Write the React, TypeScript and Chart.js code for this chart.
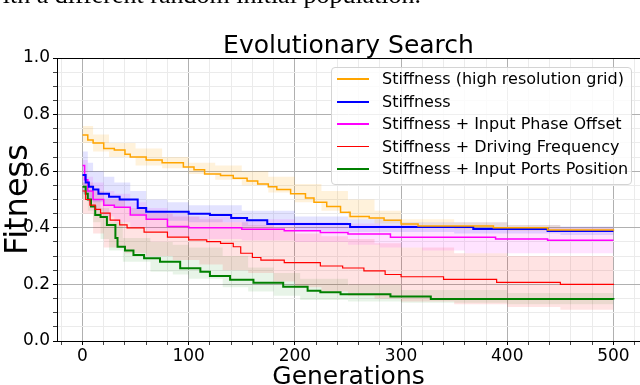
import React, { useEffect, useRef } from "react";
import { Chart, registerables } from "chart.js";

Chart.register(...registerables);

// ---------- text ----------
const TITLE = "Evolutionary Search";
const X_LABEL = "Generations";
const Y_LABEL = "Fitness";
const PAPER_TEXT = "with a different random initial population.";

const seriesNames = [
  "Stiffness (high resolution grid)",
  "Stiffness",
  "Stiffness + Input Phase Offset",
  "Stiffness + Driving Frequency",
  "Stiffness + Input Ports Position",
];
const seriesColors = ["#FFA500", "#0000FF", "#FF00FF", "#FF0000", "#008000"];
const bandColors = [
  "rgba(255,165,0,0.14)",
  "rgba(0,0,255,0.11)",
  "rgba(255,0,255,0.11)",
  "rgba(255,0,0,0.11)",
  "rgba(0,128,0,0.09)",
];
const lineWidths = [1.5, 2, 1.5, 1.2, 2];
const legendLineWidths = [2, 2, 2, 1, 2];

const xTickLabels = [0, 100, 200, 300, 400, 500];
const yTickLabels = [0.0, 0.2, 0.4, 0.6, 0.8, 1.0];

// ---------- data ----------
// Stiffness (high resolution grid)
const orangeGen = [0, 5, 10, 20, 30, 40, 45, 60, 75, 95, 105, 115, 130, 142, 155, 165, 175, 183, 196, 210, 218, 230, 243, 252, 270, 284, 300, 316, 387, 438, 500];
const orangeMean = [0.728, 0.71, 0.7, 0.68, 0.675, 0.66, 0.65, 0.64, 0.63, 0.615, 0.605, 0.59, 0.585, 0.575, 0.565, 0.555, 0.545, 0.535, 0.52, 0.505, 0.49, 0.475, 0.455, 0.44, 0.435, 0.427, 0.413, 0.406, 0.4, 0.392, 0.39];
const orangeBandGen = [0, 10, 25, 50, 75, 100, 125, 150, 175, 200, 225, 250, 275, 300, 350, 400, 450, 500];
const orangeHi = [0.76, 0.73, 0.7, 0.68, 0.65, 0.63, 0.62, 0.6, 0.58, 0.555, 0.53, 0.5, 0.46, 0.43, 0.42, 0.41, 0.4, 0.4];
const orangeLo = [0.7, 0.67, 0.65, 0.62, 0.61, 0.59, 0.57, 0.55, 0.525, 0.49, 0.46, 0.43, 0.415, 0.4, 0.395, 0.39, 0.385, 0.385];

// Stiffness
const blueGen = [0, 3, 6, 10, 15, 25, 35, 52, 60, 100, 120, 140, 155, 174, 252, 368, 438, 500];
const blueMean = [0.587, 0.56, 0.545, 0.535, 0.52, 0.51, 0.5, 0.47, 0.457, 0.45, 0.445, 0.435, 0.427, 0.413, 0.403, 0.396, 0.389, 0.389];
const blueBandGen = [0, 5, 10, 20, 30, 45, 60, 80, 100, 150, 200, 250, 300, 350, 400, 450, 500];
const blueHi = [0.67, 0.63, 0.6, 0.58, 0.56, 0.53, 0.5, 0.49, 0.48, 0.46, 0.44, 0.43, 0.42, 0.42, 0.41, 0.405, 0.4];
const blueLo = [0.52, 0.5, 0.49, 0.48, 0.47, 0.45, 0.43, 0.425, 0.42, 0.405, 0.39, 0.385, 0.385, 0.38, 0.38, 0.375, 0.375];

// Stiffness + Input Phase Offset
const magGen = [0, 2, 5, 10, 20, 30, 45, 60, 80, 100, 150, 190, 224, 250, 290, 389, 438, 500];
const magMean = [0.62, 0.57, 0.53, 0.5, 0.48, 0.473, 0.445, 0.43, 0.405, 0.4, 0.395, 0.39, 0.383, 0.378, 0.367, 0.36, 0.356, 0.356];
const magBandGen = [0, 5, 10, 20, 30, 45, 60, 80, 100, 150, 200, 250, 280, 320, 360, 400, 450, 500];
const magHi = [0.64, 0.58, 0.56, 0.53, 0.52, 0.49, 0.47, 0.45, 0.44, 0.43, 0.42, 0.415, 0.41, 0.405, 0.4, 0.4, 0.4, 0.4];
const magLo = [0.55, 0.49, 0.46, 0.44, 0.42, 0.4, 0.39, 0.37, 0.36, 0.355, 0.35, 0.34, 0.33, 0.32, 0.31, 0.31, 0.31, 0.31];

// Stiffness + Driving Frequency
const redGen = [0, 3, 7, 12, 17, 26, 35, 42, 58, 80, 100, 117, 130, 142, 149, 160, 168, 190, 224, 245, 265, 285, 300, 340, 390, 450, 500];
const redMean = [0.53, 0.5, 0.48, 0.465, 0.452, 0.427, 0.41, 0.4, 0.385, 0.367, 0.357, 0.351, 0.345, 0.333, 0.31, 0.295, 0.286, 0.277, 0.265, 0.258, 0.248, 0.235, 0.227, 0.218, 0.207, 0.2, 0.198];
const redBandGen = [0, 10, 20, 40, 60, 85, 110, 132, 156, 180, 200, 225, 250, 275, 300, 350, 400, 450, 500];
const redHi = [0.56, 0.53, 0.5, 0.47, 0.45, 0.44, 0.43, 0.42, 0.41, 0.4, 0.38, 0.37, 0.36, 0.345, 0.33, 0.31, 0.3, 0.3, 0.3];
const redLo = [0.45, 0.38, 0.33, 0.31, 0.3, 0.286, 0.27, 0.25, 0.24, 0.21, 0.19, 0.175, 0.16, 0.15, 0.14, 0.13, 0.12, 0.11, 0.1];

// Stiffness + Input Ports Position
const greenGen = [0, 3, 5, 8, 12, 17, 23, 31, 33, 40, 48, 58, 73, 92, 111, 120, 139, 161, 189, 212, 224, 243, 290, 328, 500];
const greenMean = [0.545, 0.52, 0.5, 0.475, 0.445, 0.438, 0.41, 0.364, 0.333, 0.32, 0.304, 0.292, 0.28, 0.257, 0.245, 0.23, 0.216, 0.206, 0.192, 0.178, 0.172, 0.165, 0.157, 0.148, 0.147];
const greenBandGen = [0, 5, 10, 17, 25, 38, 64, 85, 100, 132, 156, 180, 205, 250, 300, 400, 500];
const greenHi = [0.56, 0.53, 0.5, 0.47, 0.42, 0.364, 0.35, 0.34, 0.33, 0.3, 0.26, 0.24, 0.22, 0.2, 0.18, 0.17, 0.165];
const greenLo = [0.5, 0.46, 0.42, 0.36, 0.32, 0.28, 0.245, 0.235, 0.22, 0.19, 0.175, 0.16, 0.145, 0.14, 0.135, 0.13, 0.13];

const lineGens = [orangeGen, blueGen, magGen, redGen, greenGen];
const lineMeans = [orangeMean, blueMean, magMean, redMean, greenMean];
const bandGens = [orangeBandGen, blueBandGen, magBandGen, redBandGen, greenBandGen];
const bandHis = [orangeHi, blueHi, magHi, redHi, greenHi];
const bandLos = [orangeLo, blueLo, magLo, redLo, greenLo];

const X_MIN = -24;
const X_MAX = 525;

function pts(g: number[], v: number[]) {
  return g.map((x, i) => ({ x, y: v[i] }));
}

const isMajorX = (v: number) => xTickLabels.includes(v);
const isMajorY = (v: number) => yTickLabels.some((t) => Math.abs(t - v) < 1e-9);

const FONT = "DejaVu Sans";

const framePlugin = {
  id: "frameAndTexts",
  afterDraw(chart: any) {
    const { ctx, chartArea: a } = chart;
    ctx.save();
    ctx.strokeStyle = "#000";
    ctx.lineWidth = 1;
    ctx.strokeRect(a.left + 0.5, a.top + 0.5, a.right - a.left, a.bottom - a.top);
    ctx.fillStyle = "#000";
    ctx.textAlign = "center";
    ctx.textBaseline = "alphabetic";
    const cx = (a.left + a.right) / 2;
    ctx.font = `25px "${FONT}"`;
    ctx.fillText(TITLE, cx, a.top - 5);
    ctx.fillText(X_LABEL, cx, 384);
    ctx.translate(27, (a.top + a.bottom) / 2);
    ctx.rotate(-Math.PI / 2);
    ctx.font = `32px "${FONT}"`;
    ctx.fillText(Y_LABEL, 0, 0);
    ctx.restore();
  },
};

export default function App() {
  const ref = useRef<HTMLCanvasElement>(null);

  useEffect(() => {
    const canvas = ref.current;
    if (!canvas) return;
    const datasets: any[] = [];
    for (let k = 0; k < 5; k++) {
      datasets.push({
        label: seriesNames[k],
        data: pts(lineGens[k], lineMeans[k]),
        borderColor: seriesColors[k],
        backgroundColor: seriesColors[k],
        borderWidth: lineWidths[k],
        pointRadius: 0,
        stepped: true,
        fill: false,
      });
    }
    for (let k = 0; k < 5; k++) {
      const hiIndex = datasets.length;
      datasets.push({
        label: "hi" + k,
        data: pts(bandGens[k], bandHis[k]),
        borderColor: "rgba(0,0,0,0)",
        backgroundColor: bandColors[k],
        borderWidth: 0,
        pointRadius: 0,
        stepped: true,
        fill: { target: hiIndex + 1 },
      });
      datasets.push({
        label: "lo" + k,
        data: pts(bandGens[k], bandLos[k]),
        borderColor: "rgba(0,0,0,0)",
        backgroundColor: "rgba(0,0,0,0)",
        borderWidth: 0,
        pointRadius: 0,
        stepped: true,
        fill: false,
      });
    }

    const chart = new Chart(canvas, {
      type: "line",
      data: { datasets },
      plugins: [framePlugin],
      options: {
        animation: false,
        responsive: false,
        devicePixelRatio: 1,
        events: [],
        layout: { padding: { left: 0, top: 58, right: 20, bottom: 0 } },
        plugins: {
          legend: { display: false },
          title: { display: false },
          tooltip: { enabled: false },
        },
        scales: {
          x: {
            type: "linear",
            min: X_MIN,
            max: X_MAX,
            afterBuildTicks: (scale: any) => {
              const t = [];
              for (let v = -20; v <= 520; v += 20) t.push({ value: v });
              scale.ticks = t;
            },
            afterFit: (scale: any) => {
              scale.height = 59;
            },
            border: { display: false },
            grid: {
              color: (c: any) => (c.tick && isMajorX(c.tick.value) ? "#b0b0b0" : "#ebebeb"),
              lineWidth: 1,
              drawTicks: true,
              tickLength: 4,
              tickColor: (c: any) => (c.tick && isMajorX(c.tick.value) ? "#000" : "#444"),
              tickWidth: 1,
            },
            ticks: {
              autoSkip: false,
              maxRotation: 0,
              includeBounds: false,
              padding: 1,
              color: "#000",
              font: { family: FONT, size: 17 },
              callback: (v: any) => (isMajorX(Number(v)) ? String(v) : ""),
            },
          },
          y: {
            type: "linear",
            min: 0,
            max: 1,
            afterBuildTicks: (scale: any) => {
              const t = [];
              for (let i = 0; i <= 20; i++) t.push({ value: i / 20 });
              scale.ticks = t;
            },
            afterFit: (scale: any) => {
              scale.width = 57;
            },
            border: { display: false },
            grid: {
              color: (c: any) => (c.tick && isMajorY(c.tick.value) ? "#b0b0b0" : "#ebebeb"),
              lineWidth: 1,
              drawTicks: true,
              tickLength: 4,
              tickColor: (c: any) => (c.tick && isMajorY(c.tick.value) ? "#000" : "#444"),
              tickWidth: 1,
            },
            ticks: {
              autoSkip: false,
              includeBounds: false,
              padding: 3,
              color: "#000",
              font: { family: FONT, size: 17 },
              callback: (v: any) => (isMajorY(Number(v)) ? Number(v).toFixed(1) : ""),
            },
          },
        },
      },
    } as any);
    return () => chart.destroy();
  }, []);

  return (
    <div
      style={{
        position: "fixed",
        left: 0,
        top: 0,
        width: 640,
        height: 385,
        overflow: "hidden",
        background: "#fff",
      }}
    >
      <canvas
        ref={ref}
        width={660}
        height={400}
        style={{ position: "absolute", left: 0, top: 0, width: 660, height: 400 }}
      />
      <div
        style={{
          position: "absolute",
          left: -16,
          top: -18,
          fontFamily: '"Liberation Serif", serif',
          fontSize: 26,
          lineHeight: "26px",
          whiteSpace: "nowrap",
          color: "#000",
        }}
      >
        {PAPER_TEXT}
      </div>
      <div
        style={{
          position: "absolute",
          left: 331,
          top: 67,
          width: 299,
          height: 116,
          background: "rgba(255,255,255,0.8)",
          border: "1px solid #d4d4d4",
          borderRadius: 4,
          fontFamily: `"${FONT}"`,
          fontSize: 16,
          color: "#000",
        }}
      >
        {seriesNames.map((name, k) => (
          <div
            key={name}
            style={{ display: "flex", alignItems: "center", height: 22.5 }}
          >
            <div
              style={{
                marginLeft: 5,
                marginRight: 13,
                width: 32,
                height: legendLineWidths[k],
                background: seriesColors[k],
              }}
            />
            <span style={{ whiteSpace: "nowrap", lineHeight: 1 }}>{name}</span>
          </div>
        ))}
      </div>
    </div>
  );
}
